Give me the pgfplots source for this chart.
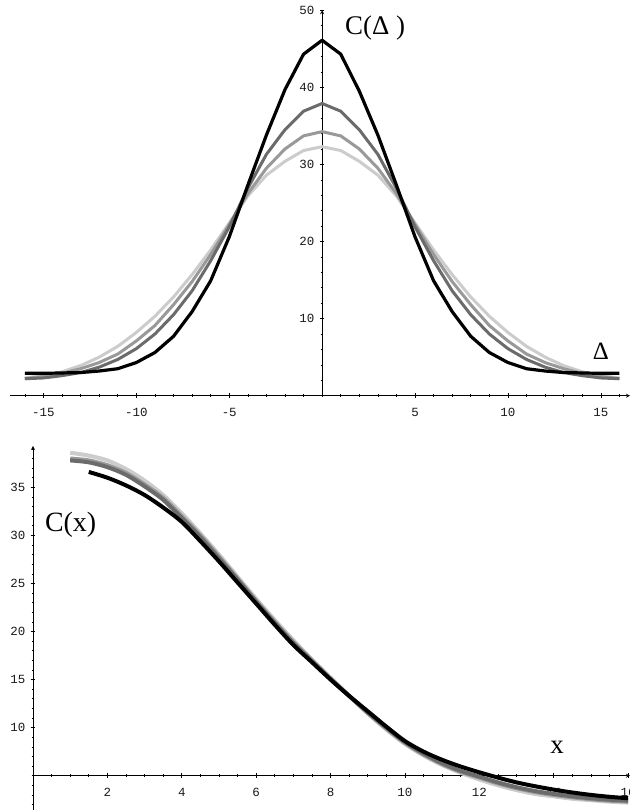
\documentclass[border=0pt]{standalone}
\usepackage{fontspec}
\setmainfont{Liberation Serif}
\newfontfamily\monofont{Liberation Mono}
\usepackage{pgfplots}
\pgfplotsset{compat=1.18}

\definecolor{gdark}{gray}{0.42}
\definecolor{gmid}{gray}{0.60}
\definecolor{glight}{gray}{0.80}

\pgfplotsset{
  mma/.style={
    scale only axis, clip=false,
    axis line style={-, line width=0.8bp, black},
    tick align=inside,
    major tick length=4.5bp, minor tick length=2.5bp,
    every tick/.style={line width=0.6bp, black},
    tick label style={font=\monofont\fontsize{12.5}{13}\selectfont, text=black!90},
    xticklabel style={yshift=-6.5bp},
    yticklabel style={xshift=-2bp},
  },
}

\begin{document}
\begin{tikzpicture}
\path[use as bounding box] (0bp,0bp) rectangle (630bp,810bp);

% top panel: C(Delta)
\begin{axis}[mma,
  at={(10bp,414.3bp)}, anchor=south west,
  width=620bp, height=385.5bp,
  xmin=-16.8, xmax=16.57, ymin=0, ymax=50,
  axis x line=bottom, axis y line=middle,
  xtick={-15,-10,-5,5,10,15}, xticklabels={-15,-10,-5,5,10,15},
  minor xtick={-16,...,16},
  ytick={10,20,30,40,50}, yticklabels={10,20,30,40,50},
  minor ytick={2,4,...,48},
]
\addplot[glight, line width=3bp, line join=round] coordinates {
(-16,2.3)(-15,2.6)(-14,3.1)(-13,3.9)(-12,5.0)(-11,6.4)(-10,8.2)(-9,10.3)(-8,12.8)
(-7,15.7)(-6,18.9)(-5,22.4)(-4,25.9)(-3,28.6)(-2,30.4)(-1,31.8)(0,32.3)
(1,31.8)(2,30.4)(3,28.6)(4,25.9)(5,22.4)(6,18.9)(7,15.7)(8,12.8)
(9,10.3)(10,8.2)(11,6.4)(12,5.0)(13,3.9)(14,3.1)(15,2.6)(16,2.3)};
\addplot[gmid, line width=3bp, line join=round] coordinates {
(-16,2.2)(-15,2.5)(-14,2.9)(-13,3.5)(-12,4.3)(-11,5.4)(-10,7.1)(-9,9.1)(-8,11.8)
(-7,14.8)(-6,18.3)(-5,22.2)(-4,26.2)(-3,29.5)(-2,32.0)(-1,33.7)(0,34.25)
(1,33.7)(2,32.0)(3,29.5)(4,26.2)(5,22.2)(6,18.3)(7,14.8)(8,11.8)
(9,9.1)(10,7.1)(11,5.4)(12,4.3)(13,3.5)(14,2.9)(15,2.5)(16,2.2)};
\addplot[gdark, line width=3bp, line join=round] coordinates {
(-16,2.2)(-15,2.3)(-14,2.6)(-13,3.0)(-12,3.7)(-11,4.7)(-10,6.1)(-9,8.0)(-8,10.5)
(-7,13.6)(-6,17.5)(-5,21.9)(-4,26.9)(-3,31.3)(-2,34.5)(-1,36.9)(0,37.9)
(1,36.9)(2,34.5)(3,31.3)(4,26.9)(5,21.9)(6,17.5)(7,13.6)(8,10.5)
(9,8.0)(10,6.1)(11,4.7)(12,3.7)(13,3.0)(14,2.6)(15,2.3)(16,2.2)};
\addplot[black, line width=3.2bp, line join=round] coordinates {
(-16,2.9)(-15,2.9)(-14,2.95)(-13,3.0)(-12,3.2)(-11,3.5)(-10,4.3)(-9,5.6)(-8,7.7)
(-7,10.9)(-6,14.9)(-5,20.6)(-4,27.3)(-3,33.8)(-2,39.7)(-1,44.3)(0,46.1)
(1,44.3)(2,39.5)(3,33.8)(4,27.3)(5,20.6)(6,14.9)(7,10.9)(8,7.7)
(9,5.6)(10,4.3)(11,3.5)(12,3.2)(13,3.0)(14,2.95)(15,2.9)(16,2.9)};
\node[anchor=base west, inner sep=0pt, font=\fontsize{27}{27}\selectfont]
  at (axis cs:1.23,46.87) {C(Δ )};
\node[anchor=base, inner sep=0pt, font=\fontsize{25}{25}\selectfont]
  at (axis cs:15.0,4.72) {Δ};
\end{axis}

% bottom panel: C(x)
\begin{axis}[mma,
  at={(33bp,0bp)}, anchor=south west,
  width=597bp, height=364bp,
  xmin=0, xmax=16.05, ymin=1.43, ymax=39.3,
  axis x line=bottom, axis x line shift=-34.3bp, axis y line=left,
  xtick={2,4,...,16}, xticklabels={2,4,6,8,10,12,14,16},
  minor xtick={0.5,1,...,16},
  ytick={10,15,...,35}, yticklabels={10,15,20,25,30,35},
  minor ytick={2,3,...,39},
]
\addplot[glight, line width=4bp, smooth] coordinates {
(1,38.6)(1.5,38.3)(2,37.8)(2.5,36.9)(3,35.7)(3.5,34.2)(4,32.3)(4.5,30.2)(5,28.0)
(5.5,25.7)(6,23.4)(6.5,21.2)(7,19.1)(7.5,17.1)(8,15.2)(8.5,13.3)(9,11.5)(9.5,9.8)
(10,8.3)(10.5,7.1)(11,6.1)(11.5,5.3)(12,4.6)(12.5,4.0)(13,3.5)(13.5,3.1)(14,2.85)
(14.5,2.6)(15,2.45)(15.5,2.3)(16,2.2)};
\addplot[gmid, line width=4bp, smooth] coordinates {
(1,38.0)(1.5,37.8)(2,37.3)(2.5,36.5)(3,35.3)(3.5,33.9)(4,32.0)(4.5,30.0)(5,27.8)
(5.5,25.5)(6,23.2)(6.5,21.0)(7,18.9)(7.5,17.0)(8,15.1)(8.5,13.3)(9,11.5)(9.5,9.9)
(10,8.4)(10.5,7.2)(11,6.2)(11.5,5.4)(12,4.8)(12.5,4.2)(13,3.7)(13.5,3.3)(14,3.0)
(14.5,2.75)(15,2.55)(15.5,2.4)(16,2.3)};
\addplot[gdark, line width=4bp, smooth] coordinates {
(1,37.8)(1.5,37.6)(2,37.1)(2.5,36.3)(3,35.1)(3.5,33.7)(4,31.8)(4.5,29.8)(5,27.6)
(5.5,25.4)(6,23.1)(6.5,20.9)(7,18.8)(7.5,16.9)(8,15.05)(8.5,13.3)(9,11.6)(9.5,10.0)
(10,8.5)(10.5,7.3)(11,6.3)(11.5,5.5)(12,4.9)(12.5,4.3)(13,3.8)(13.5,3.4)(14,3.1)
(14.5,2.85)(15,2.65)(15.5,2.5)(16,2.4)};
\addplot[black, line width=4bp, smooth] coordinates {
(1.5,36.6)(2,36.0)(2.5,35.2)(3,34.2)(3.5,32.9)(4,31.4)(4.5,29.4)(5,27.3)
(5.5,25.1)(6,22.9)(6.5,20.7)(7,18.6)(7.5,16.8)(8,15.0)(8.5,13.3)(9,11.7)(9.5,10.1)
(10,8.6)(10.5,7.5)(11,6.65)(11.5,5.95)(12,5.35)(12.5,4.8)(13,4.3)(13.5,3.9)(14,3.55)
(14.5,3.25)(15,3.0)(15.5,2.8)(16,2.65)};
\node[anchor=base west, inner sep=0pt, font=\fontsize{28}{28}\selectfont]
  at (axis cs:0.32,30.4) {C(x)};
\node[anchor=base, inner sep=0pt, font=\fontsize{27}{27}\selectfont]
  at (axis cs:14.09,7.33) {x};
\end{axis}
\end{tikzpicture}
\end{document}
